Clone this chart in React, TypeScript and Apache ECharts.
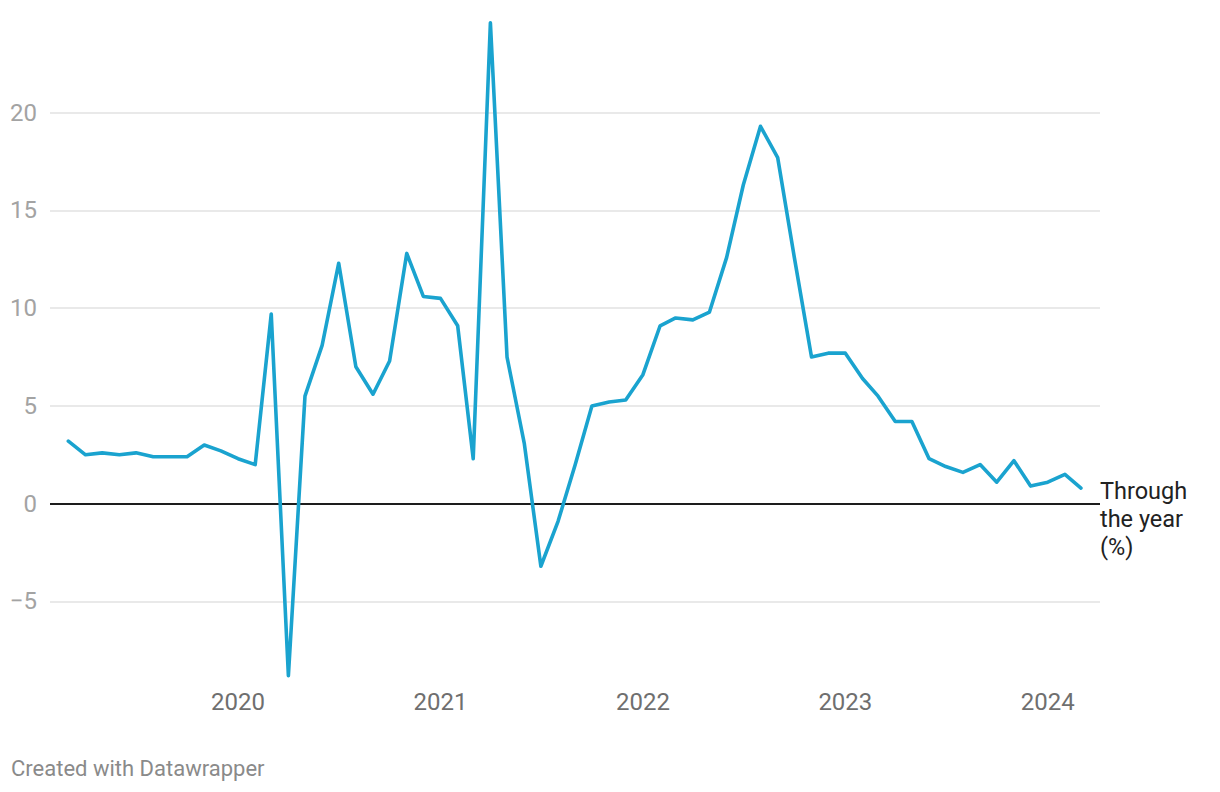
import React, { useEffect, useRef } from "react";
import * as echarts from "echarts";

// Monthly observations, March 2019 to March 2024
const START_YEAR = 2019;
const START_MONTH = 3; // March
const VALUES = [
  3.2, 2.5, 2.6, 2.5, 2.6, 2.4, 2.4, 2.4, 3.0, 2.7, // Mar-Dec 2019
  2.3, 2.0, 9.7, -8.8, 5.5, 8.1, 12.3, 7.0, 5.6, 7.3, 12.8, 10.6, // 2020
  10.5, 9.1, 2.3, 24.6, 7.5, 3.1, -3.2, -0.9, 2.0, 5.0, 5.2, 5.3, // 2021
  6.6, 9.1, 9.5, 9.4, 9.8, 12.6, 16.3, 19.3, 17.7, 12.6, 7.5, 7.7, // 2022
  7.7, 6.4, 5.5, 4.2, 4.2, 2.3, 1.9, 1.6, 2.0, 1.1, 2.2, 0.9, // 2023
  1.1, 1.5, 0.8, // Jan-Mar 2024
];
const Y_TICKS = [-10, -5, 0, 5, 10, 15, 20, 25];
const Y_LABELS_SHOWN = [-5, 0, 5, 10, 15, 20];
const X_YEARS = [2020, 2021, 2022, 2023, 2024];
const X_MIN = 2019.071;
const X_MAX = 2024.258;
const SERIES_LABEL = "Through\nthe year\n(%)";
const FOOTER = "Created with Datawrapper";

function fracYear(y: number, m: number): number {
  const start = Date.UTC(y, 0, 1);
  const next = Date.UTC(y + 1, 0, 1);
  const d = Date.UTC(y, m - 1, 1);
  return y + (d - start) / (next - start);
}

function buildPoints(): [number, number][] {
  return VALUES.map((v, i) => {
    const total = START_MONTH - 1 + i;
    const y = START_YEAR + Math.floor(total / 12);
    const m = (total % 12) + 1;
    return [fracYear(y, m), v];
  });
}

export default function App() {
  const ref = useRef<HTMLDivElement>(null);
  useEffect(() => {
    document.body.style.margin = "0";
    const chart = echarts.init(ref.current!, null, { renderer: "svg" });
    const FONT = "Roboto";
    chart.setOption({
      animation: false,
      backgroundColor: "#ffffff",
      grid: { left: 50, right: 120, top: 14.9, bottom: 792 - 699.2, containLabel: false },
      xAxis: {
        type: "value",
        min: X_MIN,
        max: X_MAX,
        splitNumber: 5,
        axisLine: { show: false },
        axisTick: { show: false },
        splitLine: { show: false },
        axisLabel: {
          showMinLabel: false,
          showMaxLabel: false,
          margin: -9,
          color: "#6f6f6f",
          fontFamily: FONT,
          fontSize: 24,
          formatter: (v: number) => {
            const r = Math.round(v);
            return Math.abs(v - r) < 1e-6 && X_YEARS.includes(r) ? String(r) : "";
          },
        },
      },
      yAxis: {
        type: "value",
        min: Y_TICKS[0],
        max: Y_TICKS[Y_TICKS.length - 1],
        interval: 5,
        axisLine: { show: false },
        axisTick: { show: false },
        splitLine: {
          show: true,
          showMinLine: false,
          showMaxLine: false,
          lineStyle: { color: "#e2e2e2", width: 1.5 },
        },
        axisLabel: {
          margin: 13,
          color: "#a3a3a3",
          fontFamily: FONT,
          fontSize: 24,
          formatter: (v: number) =>
            Y_LABELS_SHOWN.includes(v) ? String(v).replace("-", "\u2212") : "",
        },
      },
      series: [
        {
          type: "line",
          data: buildPoints(),
          showSymbol: false,
          symbol: "none",
          lineStyle: { color: "#1aa3cf", width: 3.6, join: "round", cap: "round" },
          z: 3,
          endLabel: {
            show: true,
            formatter: SERIES_LABEL,
            color: "#222222",
            fontFamily: FONT,
            fontSize: 23.5,
            lineHeight: 28,
            distance: 5,
            offset: [14, 31],
          },
          markLine: {
            silent: true,
            symbol: "none",
            label: { show: false },
            lineStyle: { color: "#1d1d1d", width: 2, type: "solid" },
            data: [{ yAxis: 0 }],
            z: 2,
          },
        },
      ],
      graphic: [
        {
          type: "text",
          left: 11,
          top: 757,
          style: {
            text: FOOTER,
            fill: "#8a8a8a",
            font: `22px ${FONT}`,
          },
        },
      ],
    });
    return () => chart.dispose();
  }, []);
  return (
    <div
      ref={ref}
      style={{ position: "absolute", left: 0, top: 0, width: 1220, height: 792 }}
    />
  );
}
